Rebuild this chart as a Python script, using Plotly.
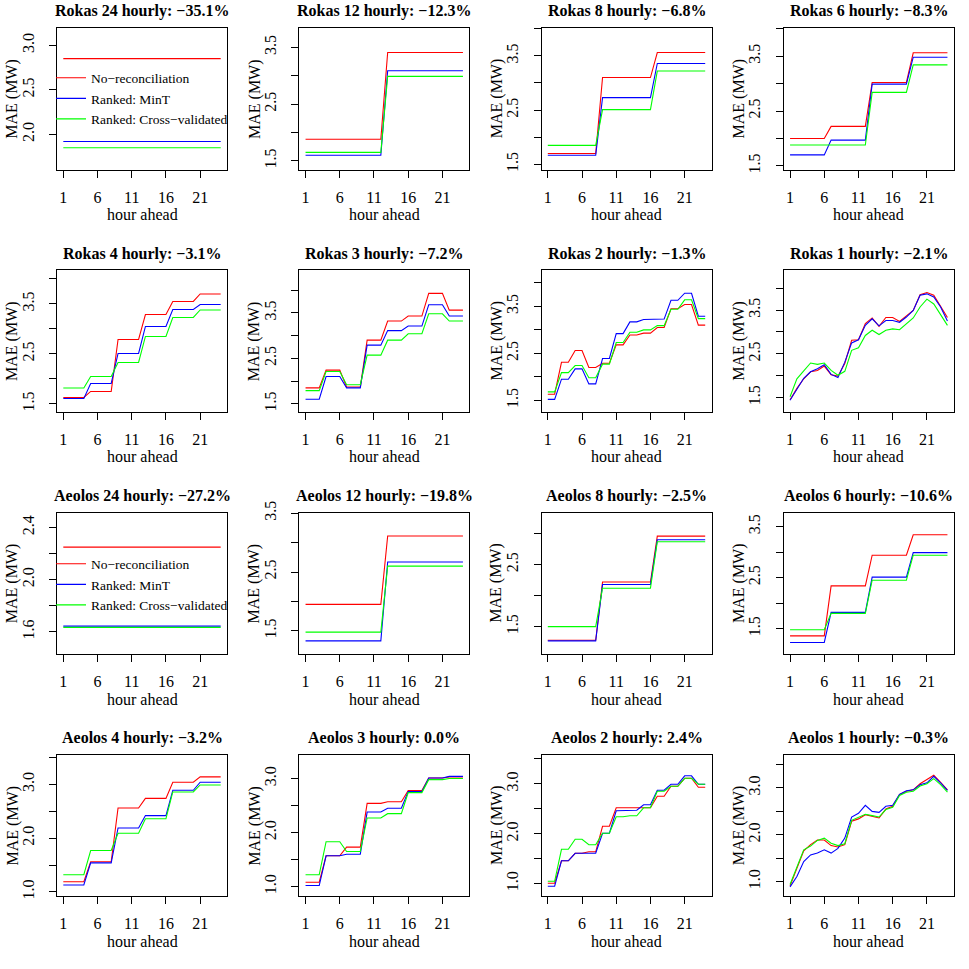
import math
import plotly.graph_objects as go

hours = list(range(1, 25))

panel_titles = [
    "Rokas 24 hourly: −35.1%", "Rokas 12 hourly: −12.3%", "Rokas 8 hourly: −6.8%", "Rokas 6 hourly: −8.3%",
    "Rokas 4 hourly: −3.1%", "Rokas 3 hourly: −7.2%", "Rokas 2 hourly: −1.3%", "Rokas 1 hourly: −2.1%",
    "Aeolos 24 hourly: −27.2%", "Aeolos 12 hourly: −19.8%", "Aeolos 8 hourly: −2.5%", "Aeolos 6 hourly: −10.6%",
    "Aeolos 4 hourly: −3.2%", "Aeolos 3 hourly: 0.0%", "Aeolos 2 hourly: 2.4%", "Aeolos 1 hourly: −0.3%",
]
series_names = ["No−reconciliation", "Ranked: MinT", "Ranked: Cross−validated"]
series_colors = ["#FF0000", "#0000FF", "#00FF00"]

# ---- Rokas ----
rokas_24_norec = [2.85, 2.85, 2.85, 2.85, 2.85, 2.85, 2.85, 2.85, 2.85, 2.85, 2.85, 2.85,
                  2.85, 2.85, 2.85, 2.85, 2.85, 2.85, 2.85, 2.85, 2.85, 2.85, 2.85, 2.85]
rokas_24_mint = [1.92, 1.92, 1.92, 1.92, 1.92, 1.92, 1.92, 1.92, 1.92, 1.92, 1.92, 1.92,
                 1.92, 1.92, 1.92, 1.92, 1.92, 1.92, 1.92, 1.92, 1.92, 1.92, 1.92, 1.92]
rokas_24_cv = [1.85, 1.85, 1.85, 1.85, 1.85, 1.85, 1.85, 1.85, 1.85, 1.85, 1.85, 1.85,
               1.85, 1.85, 1.85, 1.85, 1.85, 1.85, 1.85, 1.85, 1.85, 1.85, 1.85, 1.85]

rokas_12_norec = [1.88, 1.88, 1.88, 1.88, 1.88, 1.88, 1.88, 1.88, 1.88, 1.88, 1.88, 1.88,
                  3.41, 3.41, 3.41, 3.41, 3.41, 3.41, 3.41, 3.41, 3.41, 3.41, 3.41, 3.41]
rokas_12_mint = [1.60, 1.60, 1.60, 1.60, 1.60, 1.60, 1.60, 1.60, 1.60, 1.60, 1.60, 1.60,
                 3.09, 3.09, 3.09, 3.09, 3.09, 3.09, 3.09, 3.09, 3.09, 3.09, 3.09, 3.09]
rokas_12_cv = [1.65, 1.65, 1.65, 1.65, 1.65, 1.65, 1.65, 1.65, 1.65, 1.65, 1.65, 1.65,
               2.99, 2.99, 2.99, 2.99, 2.99, 2.99, 2.99, 2.99, 2.99, 2.99, 2.99, 2.99]

rokas_8_norec = [1.70, 1.70, 1.70, 1.70, 1.70, 1.70, 1.70, 1.70, 3.10, 3.10, 3.10, 3.10,
                 3.10, 3.10, 3.10, 3.10, 3.56, 3.56, 3.56, 3.56, 3.56, 3.56, 3.56, 3.56]
rokas_8_mint = [1.67, 1.67, 1.67, 1.67, 1.67, 1.67, 1.67, 1.67, 2.73, 2.73, 2.73, 2.73,
                2.73, 2.73, 2.73, 2.73, 3.36, 3.36, 3.36, 3.36, 3.36, 3.36, 3.36, 3.36]
rokas_8_cv = [1.85, 1.85, 1.85, 1.85, 1.85, 1.85, 1.85, 1.85, 2.51, 2.51, 2.51, 2.51,
              2.51, 2.51, 2.51, 2.51, 3.22, 3.22, 3.22, 3.22, 3.22, 3.22, 3.22, 3.22]

rokas_6_norec = [2.00, 2.00, 2.00, 2.00, 2.00, 2.00, 2.22, 2.22, 2.22, 2.22, 2.22, 2.22,
                 3.02, 3.02, 3.02, 3.02, 3.02, 3.02, 3.56, 3.56, 3.56, 3.56, 3.56, 3.56]
rokas_6_mint = [1.70, 1.70, 1.70, 1.70, 1.70, 1.70, 1.97, 1.97, 1.97, 1.97, 1.97, 1.97,
                2.99, 2.99, 2.99, 2.99, 2.99, 2.99, 3.48, 3.48, 3.48, 3.48, 3.48, 3.48]
rokas_6_cv = [1.88, 1.88, 1.88, 1.88, 1.88, 1.88, 1.88, 1.88, 1.88, 1.88, 1.88, 1.88,
              2.84, 2.84, 2.84, 2.84, 2.84, 2.84, 3.34, 3.34, 3.34, 3.34, 3.34, 3.34]

rokas_4_norec = [1.63, 1.63, 1.63, 1.63, 1.75, 1.75, 1.75, 1.75, 2.79, 2.79, 2.79, 2.79,
                 3.29, 3.29, 3.29, 3.29, 3.55, 3.55, 3.55, 3.55, 3.70, 3.70, 3.70, 3.70]
rokas_4_mint = [1.61, 1.61, 1.61, 1.61, 1.91, 1.91, 1.91, 1.91, 2.51, 2.51, 2.51, 2.51,
                3.05, 3.05, 3.05, 3.05, 3.39, 3.39, 3.39, 3.39, 3.49, 3.49, 3.49, 3.49]
rokas_4_cv = [1.82, 1.82, 1.82, 1.82, 2.05, 2.05, 2.05, 2.05, 2.33, 2.33, 2.33, 2.33,
              2.85, 2.85, 2.85, 2.85, 3.23, 3.23, 3.23, 3.23, 3.38, 3.38, 3.38, 3.38]

rokas_3_norec = [1.85, 1.85, 1.85, 2.24, 2.24, 2.24, 1.87, 1.87, 1.87, 2.90, 2.90, 2.90,
                 3.32, 3.32, 3.32, 3.43, 3.43, 3.43, 3.93, 3.93, 3.93, 3.56, 3.56, 3.56]
rokas_3_mint = [1.60, 1.60, 1.60, 2.10, 2.10, 2.10, 1.85, 1.85, 1.85, 2.79, 2.79, 2.79,
                3.11, 3.11, 3.11, 3.21, 3.21, 3.21, 3.68, 3.68, 3.68, 3.43, 3.43, 3.43]
rokas_3_cv = [1.79, 1.79, 1.79, 2.21, 2.21, 2.21, 1.92, 1.92, 1.92, 2.57, 2.57, 2.57,
              2.90, 2.90, 2.90, 3.04, 3.04, 3.04, 3.48, 3.48, 3.48, 3.32, 3.32, 3.32]

rokas_2_norec = [1.63, 1.63, 2.31, 2.31, 2.56, 2.56, 2.20, 2.20, 2.29, 2.29, 2.68, 2.68,
                 2.89, 2.89, 2.93, 2.93, 3.05, 3.05, 3.45, 3.45, 3.54, 3.54, 3.10, 3.10]
rokas_2_mint = [1.52, 1.52, 1.95, 1.95, 2.17, 2.17, 1.85, 1.85, 2.39, 2.39, 2.92, 2.92,
                3.17, 3.17, 3.22, 3.22, 3.23, 3.23, 3.63, 3.63, 3.78, 3.78, 3.29, 3.29]
rokas_2_cv = [1.68, 1.68, 2.09, 2.09, 2.24, 2.24, 1.98, 1.98, 2.27, 2.27, 2.73, 2.73,
              2.95, 2.95, 3.00, 3.00, 3.09, 3.09, 3.44, 3.44, 3.64, 3.64, 3.24, 3.24]

rokas_1_norec = [1.45, 1.71, 1.93, 2.09, 2.12, 2.22, 2.02, 1.99, 2.28, 2.81, 2.82, 3.19,
                 3.32, 3.13, 3.33, 3.33, 3.24, 3.36, 3.49, 3.85, 3.90, 3.84, 3.58, 3.33]
rokas_1_mint = [1.44, 1.70, 1.94, 2.09, 2.16, 2.25, 2.03, 1.96, 2.31, 2.75, 2.82, 3.15,
                3.30, 3.14, 3.26, 3.26, 3.22, 3.34, 3.49, 3.84, 3.87, 3.80, 3.57, 3.25]
rokas_1_cv = [1.52, 1.93, 2.11, 2.29, 2.26, 2.29, 2.12, 2.01, 2.10, 2.58, 2.64, 2.92,
              3.04, 2.94, 3.04, 3.07, 3.05, 3.19, 3.32, 3.57, 3.75, 3.64, 3.40, 3.15]

# ---- Aeolos ----
aeolos_24_norec = [2.25, 2.25, 2.25, 2.25, 2.25, 2.25, 2.25, 2.25, 2.25, 2.25, 2.25, 2.25,
                   2.25, 2.25, 2.25, 2.25, 2.25, 2.25, 2.25, 2.25, 2.25, 2.25, 2.25, 2.25]
aeolos_24_mint = [1.645, 1.645, 1.645, 1.645, 1.645, 1.645, 1.645, 1.645, 1.645, 1.645, 1.645, 1.645,
                  1.645, 1.645, 1.645, 1.645, 1.645, 1.645, 1.645, 1.645, 1.645, 1.645, 1.645, 1.645]
aeolos_24_cv = [1.635, 1.635, 1.635, 1.635, 1.635, 1.635, 1.635, 1.635, 1.635, 1.635, 1.635, 1.635,
                1.635, 1.635, 1.635, 1.635, 1.635, 1.635, 1.635, 1.635, 1.635, 1.635, 1.635, 1.635]

aeolos_12_norec = [1.95, 1.95, 1.95, 1.95, 1.95, 1.95, 1.95, 1.95, 1.95, 1.95, 1.95, 1.95,
                   3.11, 3.11, 3.11, 3.11, 3.11, 3.11, 3.11, 3.11, 3.11, 3.11, 3.11, 3.11]
aeolos_12_mint = [1.33, 1.33, 1.33, 1.33, 1.33, 1.33, 1.33, 1.33, 1.33, 1.33, 1.33, 1.33,
                  2.67, 2.67, 2.67, 2.67, 2.67, 2.67, 2.67, 2.67, 2.67, 2.67, 2.67, 2.67]
aeolos_12_cv = [1.48, 1.48, 1.48, 1.48, 1.48, 1.48, 1.48, 1.48, 1.48, 1.48, 1.48, 1.48,
                2.60, 2.60, 2.60, 2.60, 2.60, 2.60, 2.60, 2.60, 2.60, 2.60, 2.60, 2.60]

aeolos_8_norec = [1.28, 1.28, 1.28, 1.28, 1.28, 1.28, 1.28, 1.28, 2.22, 2.22, 2.22, 2.22,
                  2.22, 2.22, 2.22, 2.22, 2.96, 2.96, 2.96, 2.96, 2.96, 2.96, 2.96, 2.96]
aeolos_8_mint = [1.27, 1.27, 1.27, 1.27, 1.27, 1.27, 1.27, 1.27, 2.18, 2.18, 2.18, 2.18,
                 2.18, 2.18, 2.18, 2.18, 2.90, 2.90, 2.90, 2.90, 2.90, 2.90, 2.90, 2.90]
aeolos_8_cv = [1.50, 1.50, 1.50, 1.50, 1.50, 1.50, 1.50, 1.50, 2.12, 2.12, 2.12, 2.12,
               2.12, 2.12, 2.12, 2.12, 2.87, 2.87, 2.87, 2.87, 2.87, 2.87, 2.87, 2.87]

aeolos_6_norec = [1.36, 1.36, 1.36, 1.36, 1.36, 1.36, 2.34, 2.34, 2.34, 2.34, 2.34, 2.34,
                  2.94, 2.94, 2.94, 2.94, 2.94, 2.94, 3.34, 3.34, 3.34, 3.34, 3.34, 3.34]
aeolos_6_mint = [1.23, 1.23, 1.23, 1.23, 1.23, 1.23, 1.82, 1.82, 1.82, 1.82, 1.82, 1.82,
                 2.51, 2.51, 2.51, 2.51, 2.51, 2.51, 2.99, 2.99, 2.99, 2.99, 2.99, 2.99]
aeolos_6_cv = [1.48, 1.48, 1.48, 1.48, 1.48, 1.48, 1.80, 1.80, 1.80, 1.80, 1.80, 1.80,
               2.45, 2.45, 2.45, 2.45, 2.45, 2.45, 2.94, 2.94, 2.94, 2.94, 2.94, 2.94]

aeolos_4_norec = [1.19, 1.19, 1.19, 1.19, 1.56, 1.56, 1.56, 1.56, 2.56, 2.56, 2.56, 2.56,
                  2.74, 2.74, 2.74, 2.74, 3.04, 3.04, 3.04, 3.04, 3.14, 3.14, 3.14, 3.14]
aeolos_4_mint = [1.13, 1.13, 1.13, 1.13, 1.54, 1.54, 1.54, 1.54, 2.19, 2.19, 2.19, 2.19,
                 2.42, 2.42, 2.42, 2.42, 2.89, 2.89, 2.89, 2.89, 3.04, 3.04, 3.04, 3.04]
aeolos_4_cv = [1.32, 1.32, 1.32, 1.32, 1.77, 1.77, 1.77, 1.77, 2.09, 2.09, 2.09, 2.09,
               2.36, 2.36, 2.36, 2.36, 2.86, 2.86, 2.86, 2.86, 2.99, 2.99, 2.99, 2.99]

aeolos_3_norec = [1.08, 1.08, 1.08, 1.57, 1.57, 1.57, 1.73, 1.73, 1.73, 2.54, 2.54, 2.54,
                  2.57, 2.57, 2.57, 2.78, 2.78, 2.78, 3.01, 3.01, 3.01, 3.03, 3.03, 3.03]
aeolos_3_mint = [1.02, 1.02, 1.02, 1.57, 1.57, 1.57, 1.60, 1.60, 1.60, 2.38, 2.38, 2.38,
                 2.45, 2.45, 2.45, 2.76, 2.76, 2.76, 3.01, 3.01, 3.01, 3.04, 3.04, 3.04]
aeolos_3_cv = [1.22, 1.22, 1.22, 1.83, 1.83, 1.83, 1.65, 1.65, 1.65, 2.27, 2.27, 2.27,
               2.35, 2.35, 2.35, 2.74, 2.74, 2.74, 2.98, 2.98, 2.98, 3.00, 3.00, 3.00]

aeolos_2_norec = [1.01, 1.01, 1.46, 1.46, 1.61, 1.61, 1.64, 1.64, 2.15, 2.15, 2.52, 2.52,
                  2.52, 2.52, 2.52, 2.52, 2.75, 2.75, 2.95, 2.95, 3.11, 3.11, 2.93, 2.93]
aeolos_2_mint = [0.95, 0.95, 1.46, 1.46, 1.61, 1.61, 1.61, 1.61, 2.01, 2.01, 2.46, 2.46,
                 2.47, 2.47, 2.58, 2.58, 2.87, 2.87, 2.99, 2.99, 3.16, 3.16, 2.99, 2.99]
aeolos_2_cv = [1.05, 1.05, 1.69, 1.69, 1.89, 1.89, 1.78, 1.78, 2.01, 2.01, 2.34, 2.34,
               2.36, 2.36, 2.52, 2.52, 2.85, 2.85, 2.95, 2.95, 3.11, 3.11, 2.99, 2.99]

aeolos_1_norec = [0.91, 1.29, 1.66, 1.79, 1.89, 1.89, 1.77, 1.74, 1.79, 2.29, 2.34, 2.43,
                  2.39, 2.36, 2.55, 2.61, 2.86, 2.93, 2.96, 3.09, 3.18, 3.27, 3.12, 2.96]
aeolos_1_mint = [0.89, 1.11, 1.43, 1.57, 1.61, 1.68, 1.61, 1.71, 1.93, 2.38, 2.46, 2.63,
                 2.50, 2.48, 2.61, 2.63, 2.86, 2.94, 2.96, 3.07, 3.11, 3.25, 3.11, 2.95]
aeolos_1_cv = [0.94, 1.32, 1.68, 1.76, 1.88, 1.93, 1.82, 1.77, 1.81, 2.31, 2.37, 2.44,
               2.41, 2.38, 2.54, 2.59, 2.84, 2.91, 2.93, 3.04, 3.09, 3.20, 3.07, 2.91]

panels = [
    (rokas_24_norec, rokas_24_mint, rokas_24_cv), (rokas_12_norec, rokas_12_mint, rokas_12_cv),
    (rokas_8_norec, rokas_8_mint, rokas_8_cv), (rokas_6_norec, rokas_6_mint, rokas_6_cv),
    (rokas_4_norec, rokas_4_mint, rokas_4_cv), (rokas_3_norec, rokas_3_mint, rokas_3_cv),
    (rokas_2_norec, rokas_2_mint, rokas_2_cv), (rokas_1_norec, rokas_1_mint, rokas_1_cv),
    (aeolos_24_norec, aeolos_24_mint, aeolos_24_cv), (aeolos_12_norec, aeolos_12_mint, aeolos_12_cv),
    (aeolos_8_norec, aeolos_8_mint, aeolos_8_cv), (aeolos_6_norec, aeolos_6_mint, aeolos_6_cv),
    (aeolos_4_norec, aeolos_4_mint, aeolos_4_cv), (aeolos_3_norec, aeolos_3_mint, aeolos_3_cv),
    (aeolos_2_norec, aeolos_2_mint, aeolos_2_cv), (aeolos_1_norec, aeolos_1_mint, aeolos_1_cv),
]

FONT = "Liberation Serif"
W = H = 969
cell = W / 4
box_left, box_right, box_top, box_h = 57, 227, 28, 141.5

fig = go.Figure()
layout = {}
annotations = []

for i, (title, series) in enumerate(zip(panel_titles, panels)):
    r, c = divmod(i, 4)
    sfx = "" if i == 0 else str(i + 1)
    x0 = (box_left + cell * c) / W
    x1 = (box_right + cell * c) / W
    top_px = box_top + cell * r
    bot_px = top_px + box_h
    y1 = 1 - top_px / H
    y0 = 1 - bot_px / H

    for name, color, vals in zip(series_names, series_colors, series):
        fig.add_trace(go.Scatter(
            x=hours, y=vals, mode="lines", name=name,
            line=dict(color=color, width=1.1),
            xaxis="x" + sfx, yaxis="y" + sfx,
            showlegend=i in (0, 8), legend="legend" if i < 8 else "legend2",
        ))

    # R-style ylim = c(0.9*min, 1.1*max) with 4% expansion
    all_vals = [v for s in series for v in s]
    lo, hi = 0.9 * min(all_vals), 1.1 * max(all_vals)
    pad = 0.04 * (hi - lo)
    ymin, ymax = lo - pad, hi + pad
    step = 0.2 if hi - lo < 1.2 else 0.5
    k0 = math.ceil(ymin / step - 1e-3)
    k1 = math.floor(ymax / step + 1e-3)
    ticks = [round(k * step, 2) for k in range(k0, k1 + 1)]
    spacing = step / (ymax - ymin) * box_h
    labels = [f"{t:.1f}" if (spacing > 35 or j % 2 == 0) else "" for j, t in enumerate(ticks)]

    common = dict(showline=True, mirror=True, linecolor="black", linewidth=1,
                  ticks="outside", ticklen=7, tickwidth=1, tickcolor="black",
                  showgrid=False, zeroline=False, automargin=False,
                  tickfont=dict(family=FONT, size=16, color="black"))
    layout["xaxis" + sfx] = dict(domain=[x0, x1], anchor="y" + sfx,
                                 range=[0.08, 24.92], tickvals=[1, 6, 11, 16, 21],
                                 ticklabelstandoff=6, **common)
    layout["yaxis" + sfx] = dict(domain=[y0, y1], anchor="x" + sfx,
                                 range=[ymin, ymax], tickvals=ticks, ticktext=labels,
                                 tickangle=-90, ticklabelstandoff=9, **common)

    cx = (x0 + x1) / 2
    annotations.append(dict(text="<b>" + title + "</b>", x=cx, y=1 - (top_px - 16.5) / H,
                            xref="paper", yref="paper", showarrow=False,
                            xanchor="center", yanchor="middle",
                            font=dict(family=FONT, size=16, color="black")))
    annotations.append(dict(text="hour ahead", x=cx, y=1 - (bot_px + 45) / H,
                            xref="paper", yref="paper", showarrow=False,
                            xanchor="center", yanchor="middle",
                            font=dict(family=FONT, size=16, color="black")))
    annotations.append(dict(text="MAE (MW)", x=(12 + cell * c) / W, y=(y0 + y1) / 2,
                            xref="paper", yref="paper", showarrow=False, textangle=-90,
                            xanchor="center", yanchor="middle",
                            font=dict(family=FONT, size=16, color="black")))

legend_style = dict(xanchor="left", yanchor="top", bgcolor="rgba(0,0,0,0)", borderwidth=0,
                    font=dict(family=FONT, size=13.5, color="black"), tracegroupgap=0,
                    itemwidth=30)
fig.update_layout(
    width=W, height=H, margin=dict(l=0, r=0, t=0, b=0),
    paper_bgcolor="white", plot_bgcolor="white",
    annotations=annotations,
    legend=dict(x=51 / W, y=1 - 62.5 / H, **legend_style),
    legend2=dict(x=51 / W, y=1 - 548.5 / H, **legend_style),
    **layout,
)

# pin the 969x969 figure to the top-left corner of the page, no scrollbars
pin_page = """
document.documentElement.style.margin = '0';
document.documentElement.style.overflow = 'hidden';
document.body.style.margin = '0';
document.body.style.overflow = 'hidden';
var gd = document.getElementById('{plot_id}');
gd.style.position = 'fixed';
gd.style.left = '0px';
gd.style.top = '0px';
"""
fig.write_html("out.html", config={"displayModeBar": False}, post_script=pin_page)
